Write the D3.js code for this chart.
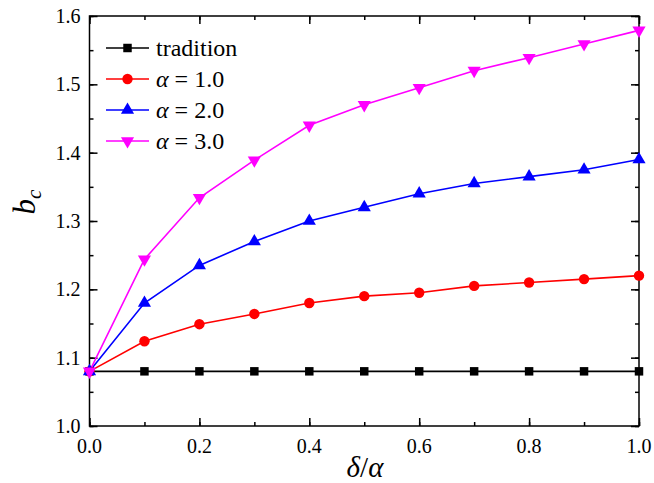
<!DOCTYPE html>
<html>
<head>
<meta charset="utf-8">
<script src="https://cdn.jsdelivr.net/npm/d3@7.9.0/dist/d3.min.js"></script>
<style>
  text, tspan { font-family: "Liberation Serif", "Times New Roman", Tinos, serif !important; }
</style>
</head>
<body style="margin:0">
<div id="chart"></div>
<script>
// data
const xValues = [0.0, 0.1, 0.2, 0.3, 0.4, 0.5, 0.6, 0.7, 0.8, 0.9, 1.0];
const tradition = [1.08, 1.08, 1.08, 1.08, 1.08, 1.08, 1.08, 1.08, 1.08, 1.08, 1.08];
const alpha1 = [1.08, 1.124, 1.149, 1.164, 1.18, 1.19, 1.195, 1.205, 1.21, 1.215, 1.22];
const alpha2 = [1.08, 1.18, 1.235, 1.27, 1.30, 1.32, 1.34, 1.355, 1.365, 1.375, 1.39];
const alpha3 = [1.08, 1.244, 1.334, 1.389, 1.44, 1.47, 1.495, 1.52, 1.539, 1.559, 1.579];
const seriesNames = ["tradition", "α = 1.0", "α = 2.0", "α = 3.0"];
const xTicks = [0, 0.2, 0.4, 0.6, 0.8, 1.0];
const yTicks = [1.0, 1.1, 1.2, 1.3, 1.4, 1.5, 1.6];

const series = [
  { name: seriesNames[0], values: tradition, color: "#000000", symbol: d3.symbolSquare, size: 72, rot: 0 },
  { name: seriesNames[1], values: alpha1, color: "#ff0000", symbol: d3.symbolCircle, size: 85, rot: 0 },
  { name: seriesNames[2], values: alpha2, color: "#0000ff", symbol: d3.symbolTriangle, size: 75, rot: 0 },
  { name: seriesNames[3], values: alpha3, color: "#ff00ff", symbol: d3.symbolTriangle, size: 75, rot: 180 }
];

const FONT = "Liberation Serif";
const W = 654, H = 483;
const margin = { top: 16, right: 15, bottom: 57, left: 89.5 };
const width = W - margin.left - margin.right;
const height = H - margin.top - margin.bottom;

const svg = d3.select("#chart").append("svg")
  .attr("width", W)
  .attr("height", H);

const g = svg.append("g")
  .attr("transform", `translate(${margin.left},${margin.top})`);

const x = d3.scaleLinear().domain([0, 1]).range([0, width]);
const y = d3.scaleLinear().domain([1.0, 1.6]).range([height, 0]);

const minorX = d3.range(0, 1.0001, 0.1);
const minorY = d3.range(1.0, 1.6001, 0.05);

// inward ticks on all four sides
function tickAxis(axis, scale, vals, len) {
  return axis(scale).tickValues(vals).tickSizeInner(-len).tickSizeOuter(0).tickFormat("");
}
const axes = g.append("g").attr("class", "ticks");
axes.append("g").attr("transform", `translate(0,${height})`).call(tickAxis(d3.axisBottom, x, minorX, 4));
axes.append("g").attr("transform", `translate(0,${height})`).call(tickAxis(d3.axisBottom, x, xTicks, 8));
axes.append("g").call(tickAxis(d3.axisTop, x, minorX, 4));
axes.append("g").call(tickAxis(d3.axisTop, x, xTicks, 8));
axes.append("g").call(tickAxis(d3.axisLeft, y, minorY, 4));
axes.append("g").call(tickAxis(d3.axisLeft, y, yTicks, 8));
axes.append("g").attr("transform", `translate(${width},0)`).call(tickAxis(d3.axisRight, y, minorY, 4));
axes.append("g").attr("transform", `translate(${width},0)`).call(tickAxis(d3.axisRight, y, yTicks, 8));
axes.selectAll(".domain").remove();
axes.selectAll("line").attr("stroke", "#000").attr("stroke-width", 1.5);

// tick labels
g.append("g").selectAll("text").data(xTicks).enter().append("text")
  .attr("x", d => x(d))
  .attr("y", height + 27)
  .attr("text-anchor", "middle")
  .attr("font-size", 20)
  .style("font-family", FONT)
  .text(d => d.toFixed(1));

g.append("g").selectAll("text").data(yTicks).enter().append("text")
  .attr("x", -9)
  .attr("y", d => y(d))
  .attr("dy", "0.35em")
  .attr("text-anchor", "end")
  .attr("font-size", 20)
  .style("font-family", FONT)
  .text(d => d.toFixed(1));

// frame
g.append("rect")
  .attr("width", width)
  .attr("height", height)
  .attr("fill", "none")
  .attr("stroke", "#000")
  .attr("stroke-width", 1.5);

// lines and markers
const line = d3.line()
  .x((d, i) => x(xValues[i]))
  .y(d => y(d));

series.forEach(s => {
  g.append("path")
    .datum(s.values)
    .attr("fill", "none")
    .attr("stroke", s.color)
    .attr("stroke-width", 1.6)
    .attr("d", line);
});

series.forEach(s => {
  g.append("g").selectAll("path").data(s.values).enter().append("path")
    .attr("d", d3.symbol().type(s.symbol).size(s.size))
    .attr("transform", (d, i) => `translate(${x(xValues[i])},${y(d)}) rotate(${s.rot})`)
    .attr("fill", s.color);
});

// legend
const legend = g.append("g")
  .selectAll("g")
  .data(series)
  .enter()
  .append("g")
  .attr("transform", (d, i) => `translate(${106 - margin.left},${48 - margin.top + i * 31})`);

legend.append("line")
  .attr("x1", 0).attr("x2", 43)
  .attr("stroke", d => d.color)
  .attr("stroke-width", 1.6);

legend.append("path")
  .attr("d", d => d3.symbol().type(d.symbol).size(d.size)())
  .attr("transform", d => `translate(21.5,0) rotate(${d.rot})`)
  .attr("fill", d => d.color);

legend.append("text")
  .attr("x", 50)
  .attr("dy", "0.33em")
  .attr("font-size", 24)
  .style("font-family", FONT)
  .each(function(d) {
    const t = d3.select(this);
    if (d.name.startsWith("α")) {
      t.append("tspan").attr("font-style", "italic").text("α");
      t.append("tspan").text(d.name.slice(1));
    } else {
      t.text(d.name);
    }
  });

// axis titles
const xl = svg.append("text")
  .attr("x", 365)
  .attr("y", 477)
  .attr("text-anchor", "middle")
  .attr("font-size", 29)
  .style("font-family", FONT)
  .attr("font-style", "italic");
xl.append("tspan").text("δ");
xl.append("tspan").attr("font-style", "normal").text("/");
xl.append("tspan").text("α");

const yl = svg.append("text")
  .attr("transform", "translate(35,202) rotate(-90)")
  .attr("text-anchor", "middle")
  .attr("font-size", 31)
  .style("font-family", FONT)
  .attr("font-style", "italic");
yl.append("tspan").text("b");
yl.append("tspan").attr("font-size", 21).attr("dy", 6).text("c");
</script>
</body>
</html>
